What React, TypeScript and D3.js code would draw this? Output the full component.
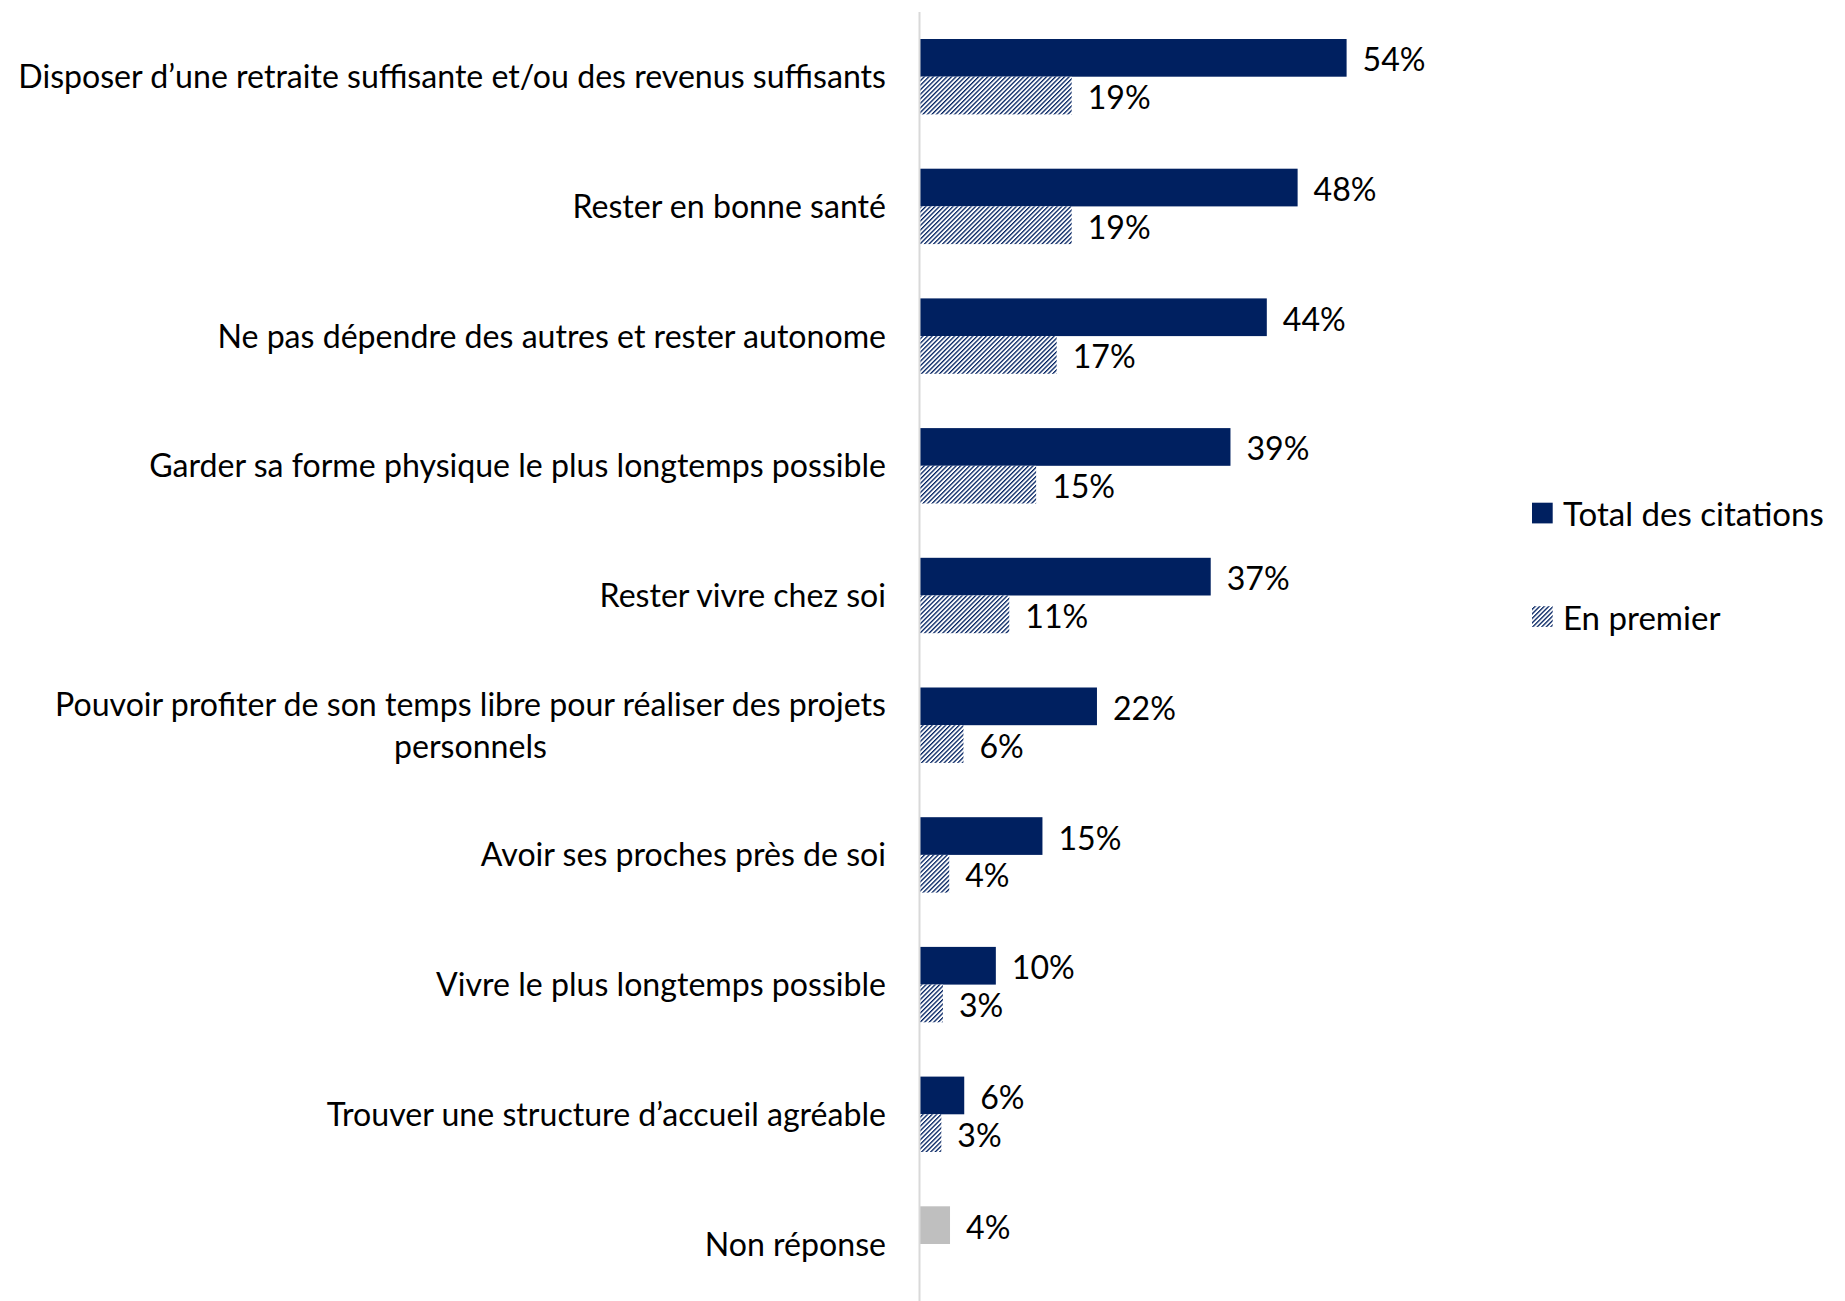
import { useEffect, useRef } from 'react'
import * as d3 from 'd3'

const WIDTH = 1845
const HEIGHT = 1301
const NAVY = '#002060'
const GREY = '#bfbfbf'
const AXIS_COLOR = '#d9d9d9'
const FONT = 'Lato, "Open Sans", sans-serif'

const categories = [
  'Disposer d’une retraite suffisante et/ou des revenus suffisants',
  'Rester en bonne santé',
  'Ne pas dépendre des autres et rester autonome',
  'Garder sa forme physique le plus longtemps possible',
  'Rester vivre chez soi',
  'Pouvoir profiter de son temps libre pour réaliser des projets|personnels',
  'Avoir ses proches près de soi',
  'Vivre le plus longtemps possible',
  'Trouver une structure d’accueil agréable',
  'Non réponse',
]

// bar lengths, labels as printed
const totalValues = [54.0, 47.8, 43.9, 39.3, 36.8, 22.4, 15.5, 9.6, 5.6, 3.8]
const totalLabels = ['54%', '48%', '44%', '39%', '37%', '22%', '15%', '10%', '6%', '4%']
const firstValues = [19.2, 19.2, 17.3, 14.7, 11.3, 5.5, 3.7, 2.9, 2.7, null]
const firstLabels = ['19%', '19%', '17%', '15%', '11%', '6%', '4%', '3%', '3%', null]
const isNoAnswer = [false, false, false, false, false, false, false, false, false, true]

const legendItems = ['Total des citations', 'En premier']

export default function App() {
  const svgRef = useRef<SVGSVGElement>(null)

  useEffect(() => {
    const svgEl = svgRef.current
    if (!svgEl) return
    const svg = d3.select(svgEl)
    svg.selectAll('*').remove()

    // fit the font so the longest label spans as in the original
    const probe = svg
      .append('text')
      .attr('font-family', FONT)
      .attr('font-size', 100)
      .text(categories[0])
    const probeWidth = (probe.node() as SVGTextElement).getComputedTextLength()
    probe.remove()
    const fontSize = Math.min(36, (868 / probeWidth) * 100)

    const x = d3.scaleLinear().domain([0, 60]).range([920, 920 + 7.9 * 60])
    const y = d3
      .scaleBand<number>()
      .domain(d3.range(categories.length))
      .range([11.85, 11.85 + 129.7 * categories.length])
      .paddingInner(0)
    const barH = 37.7

    const defs = svg.append('defs')
    const pat = defs
      .append('pattern')
      .attr('id', 'hatch')
      .attr('patternUnits', 'userSpaceOnUse')
      .attr('width', 3.2)
      .attr('height', 10)
      .attr('patternTransform', 'rotate(45)')
    pat.append('rect').attr('width', 3.2).attr('height', 10).attr('fill', '#fff')
    pat.append('rect').attr('width', 1.3).attr('height', 10).attr('fill', NAVY)

    const g = svg.append('g')

    categories.forEach((cat, i) => {
      const c = (y(i) ?? 0) + y.bandwidth() / 2

      g.append('rect')
        .attr('x', x(0))
        .attr('y', c - barH)
        .attr('width', x(totalValues[i]) - x(0))
        .attr('height', barH)
        .attr('fill', isNoAnswer[i] ? GREY : NAVY)

      g.append('text')
        .attr('x', x(totalValues[i]) + 16)
        .attr('y', c - barH / 2)
        .attr('dy', '0.42em')
        .attr('font-family', FONT)
        .attr('font-size', fontSize)
        .attr('fill', '#000')
        .text(totalLabels[i])

      const fv = firstValues[i]
      if (fv != null) {
        g.append('rect')
          .attr('x', x(0))
          .attr('y', c)
          .attr('width', x(fv) - x(0))
          .attr('height', barH)
          .attr('fill', 'url(#hatch)')

        g.append('text')
          .attr('x', x(fv) + 16)
          .attr('y', c + barH / 2)
          .attr('dy', '0.42em')
          .attr('font-family', FONT)
          .attr('font-size', fontSize)
          .attr('fill', '#000')
          .text(firstLabels[i] ?? '')
      }

      const lines = cat.split('|')
      const lineH = 42.4
      const label = g
        .append('text')
        .attr('font-family', FONT)
        .attr('font-size', fontSize)
        .attr('fill', '#000')
      const spans = lines.map((ln, k) =>
        label
          .append('tspan')
          .attr('y', c + (k - (lines.length - 1) / 2) * lineH)
          .attr('dy', '0.36em')
          .text(ln)
      )
      const widest = d3.max(spans, (s) => (s.node() as SVGTSpanElement).getComputedTextLength()) ?? 0
      const mid = 886 - widest / 2
      spans.forEach((s) => s.attr('x', mid).attr('text-anchor', 'middle'))
    })

    // vertical axis line
    svg
      .append('line')
      .attr('x1', x(0) - 0.5)
      .attr('x2', x(0) - 0.5)
      .attr('y1', 12)
      .attr('y2', HEIGHT)
      .attr('stroke', AXIS_COLOR)
      .attr('stroke-width', 2)

    // legend
    const legend = svg.append('g')
    const legendY = [513, 616.5]
    legendItems.forEach((name, i) => {
      legend
        .append('rect')
        .attr('x', 1532)
        .attr('y', legendY[i] - 10.3)
        .attr('width', 20.7)
        .attr('height', 20.7)
        .attr('fill', i === 0 ? NAVY : 'url(#hatch)')
      legend
        .append('text')
        .attr('x', 1563)
        .attr('y', legendY[i])
        .attr('dy', '0.4em')
        .attr('font-family', FONT)
        .attr('font-size', fontSize * 1.03)
        .attr('fill', '#000')
        .text(name)
    })
  }, [])

  return (
    <div style={{ position: 'absolute', left: 0, top: 0 }}>
      <svg ref={svgRef} width={WIDTH} height={HEIGHT} style={{ display: 'block', background: '#fff' }} />
    </div>
  )
}
